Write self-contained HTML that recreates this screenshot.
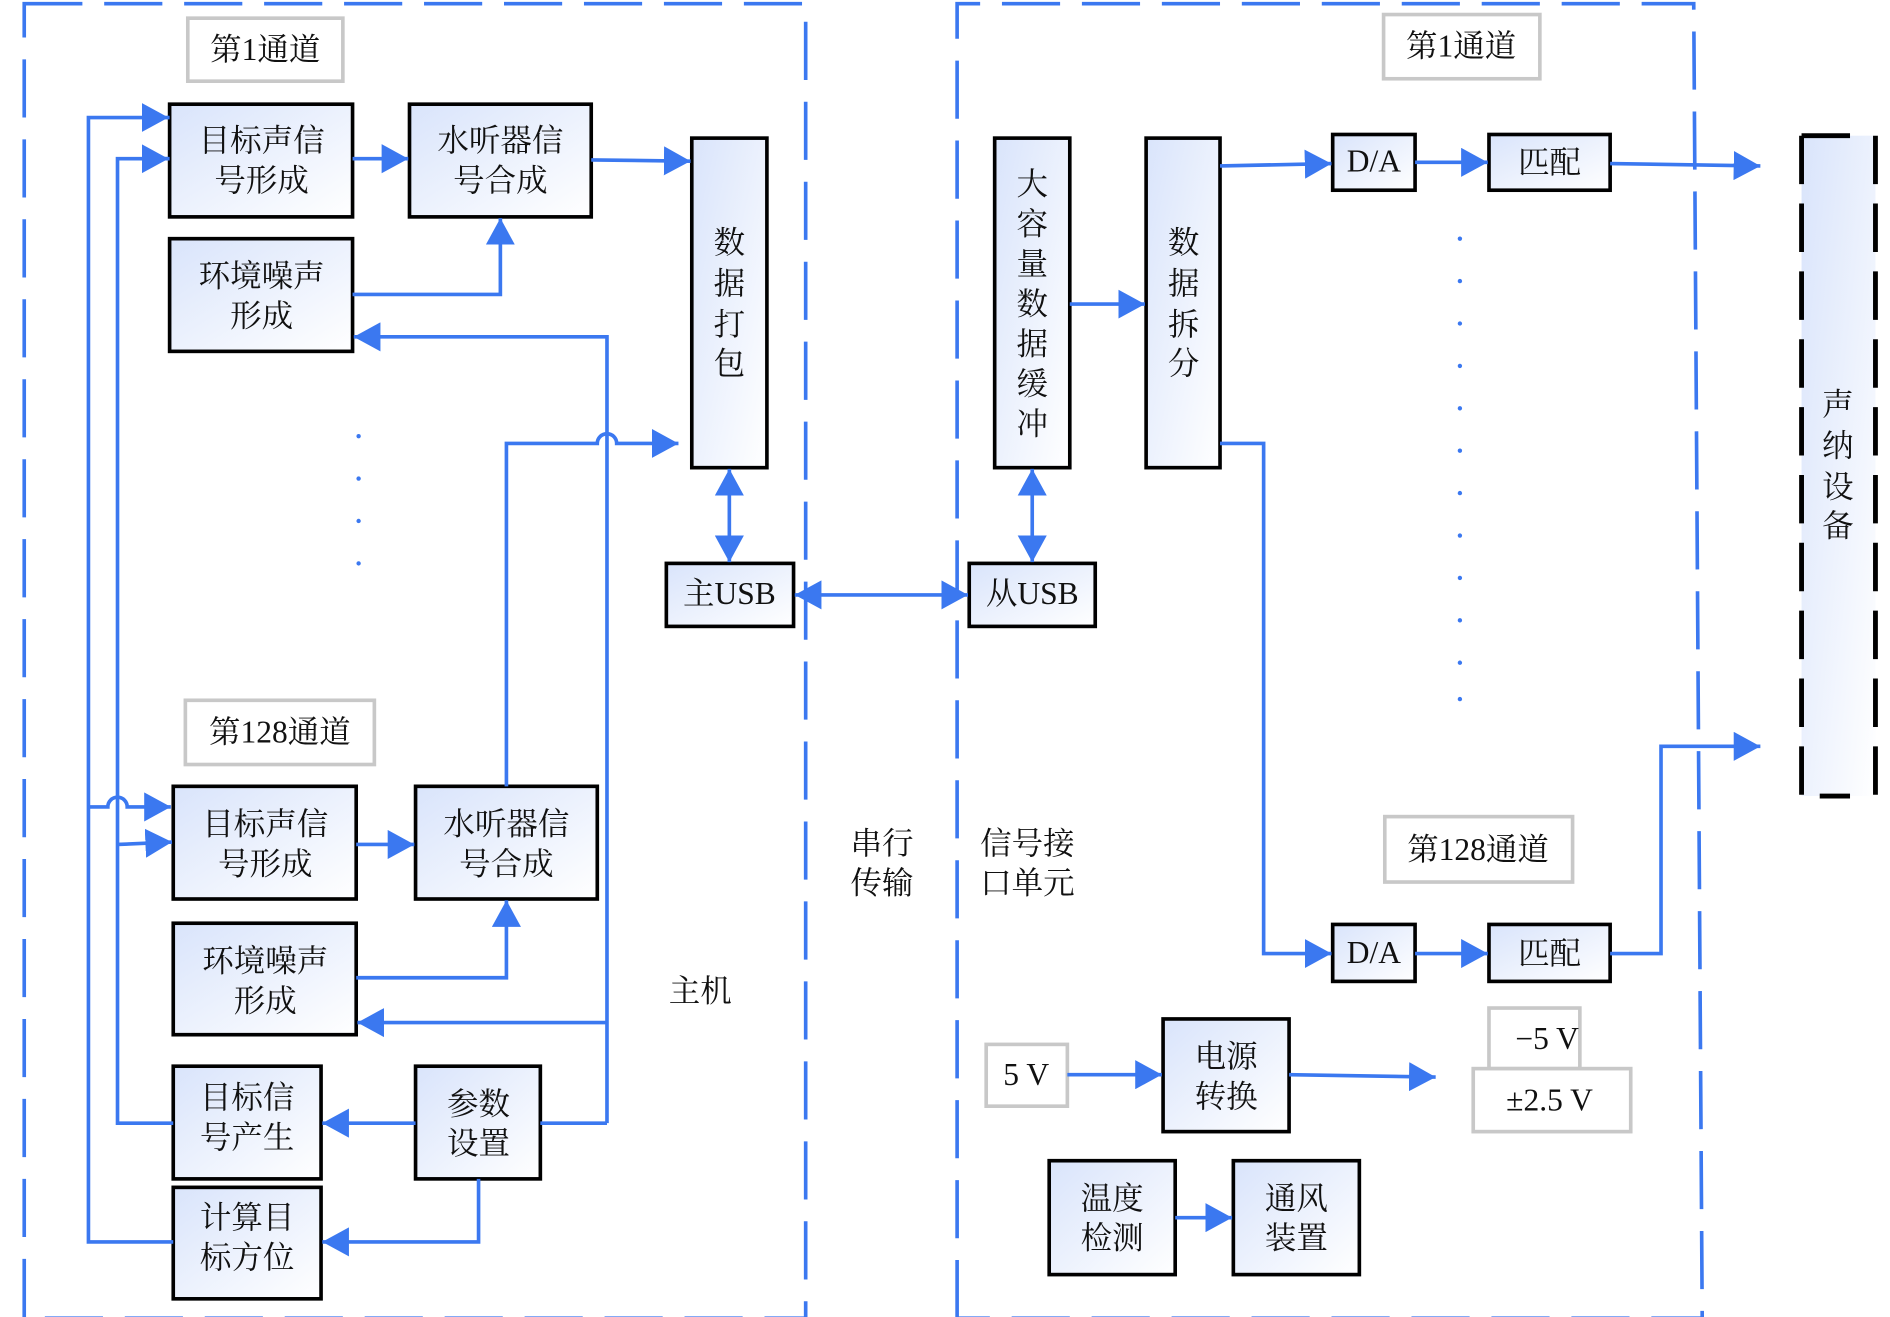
<!DOCTYPE html>
<html><head><meta charset="utf-8"><style>
html,body{margin:0;padding:0;background:#fff;}
svg{display:block;}
text{font-family:"Liberation Serif","Noto Serif CJK SC",serif;font-size:26px;fill:#111;text-anchor:middle;dominant-baseline:central;}
</style></head><body>
<svg width="1890" height="1317" viewBox="0 0 1560 1087" preserveAspectRatio="none" xmlns="http://www.w3.org/2000/svg">
<defs>
<linearGradient id="g" x1="0" y1="0" x2="1" y2="1"><stop offset="0" stop-color="#d9e4fb"/><stop offset="1" stop-color="#ffffff"/></linearGradient>
<marker id="a" viewBox="0 0 22 24" refX="22" refY="12" markerWidth="22" markerHeight="24" markerUnits="userSpaceOnUse" orient="auto-start-reverse"><path d="M0,0 L22,12 L0,24 z" fill="#3b78f0"/></marker>
</defs>
<g fill="none" stroke="#3b78f0" stroke-width="3" stroke-dasharray="48 18">
<rect x="20" y="3" width="645" height="1085"/>
<path d="M790,1088 V3 H1398 L1405,1088 H790"/>
</g>
<!-- sonar -->
<rect x="1487" y="112" width="61" height="545" fill="url(#g)"/>
<path d="M1487,112 V657 H1527 M1548,112 V657 M1487,112 H1527" fill="none" stroke="#000" stroke-width="4" stroke-dasharray="40 16"/>
<!-- gray labels -->
<g fill="#fff" stroke="#c8c8c8" stroke-width="3">
<rect x="155" y="15" width="128" height="52"/><rect x="1142" y="12" width="129" height="53"/>
<rect x="153" y="578" width="156" height="53"/><rect x="1143" y="674" width="155" height="54"/>
<rect x="814" y="862" width="67" height="51"/><rect x="1229" y="832" width="75" height="50"/><rect x="1216" y="882" width="130" height="52"/>
</g>
<!-- blocks -->
<g fill="url(#g)" stroke="#000" stroke-width="3">
<rect x="140" y="86" width="151" height="93"/><rect x="338" y="86" width="150" height="93"/><rect x="140" y="197" width="151" height="93"/>
<rect x="571" y="114" width="62" height="272"/><rect x="550" y="465" width="105" height="52"/>
<rect x="143" y="649" width="151" height="93"/><rect x="343" y="649" width="150" height="93"/><rect x="143" y="762" width="151" height="92"/>
<rect x="143" y="880" width="122" height="93"/><rect x="343" y="880" width="103" height="93"/><rect x="143" y="980" width="122" height="92"/>
<rect x="800" y="465" width="104" height="52"/><rect x="821" y="114" width="62" height="272"/><rect x="946" y="114" width="61" height="272"/>
<rect x="1100" y="111" width="68" height="46"/><rect x="1229" y="111" width="100" height="46"/>
<rect x="1100" y="763" width="68" height="47"/><rect x="1229" y="763" width="100" height="47"/>
<rect x="960" y="841" width="104" height="93"/><rect x="866" y="958" width="104" height="94"/><rect x="1018" y="958" width="104" height="94"/>
</g>
<!-- connectors -->
<g fill="none" stroke="#3b78f0" stroke-width="3">
<path d="M140,97 H73 V1025 H143"/>
<path d="M138,97 H139" marker-end="url(#a)"/>
<path d="M73,666 H89 A8,8 0 0 1 105,666 H141" marker-end="url(#a)"/>
<path d="M140,131 H97 V927 H143"/>
<path d="M118,131 H139" marker-end="url(#a)"/>
<path d="M97,697 L142,695" marker-end="url(#a)"/>
<path d="M291,131 H337" marker-end="url(#a)"/>
<path d="M488,132 L570,133" marker-end="url(#a)"/>
<path d="M291,243 H413 V180" marker-end="url(#a)"/>
<path d="M501,927 V278 H292" marker-end="url(#a)"/>
<path d="M501,844 H295" marker-end="url(#a)"/>
<path d="M446,927 H501"/>
<path d="M418,649 V366 H493 A8,8 0 0 1 509,366 H560" marker-end="url(#a)"/>
<path d="M294,697 H342" marker-end="url(#a)"/>
<path d="M294,807 H418 V743" marker-end="url(#a)"/>
<path d="M343,927 H266" marker-end="url(#a)"/>
<path d="M395,973 V1025 H266" marker-end="url(#a)"/>
<path d="M602,387 V464" marker-start="url(#a)" marker-end="url(#a)"/>
<path d="M656,491 H799" marker-start="url(#a)" marker-end="url(#a)"/>
<path d="M852,387 V464" marker-start="url(#a)" marker-end="url(#a)"/>
<path d="M883,251 H945" marker-end="url(#a)"/>
<path d="M1007,137 L1099,135" marker-end="url(#a)"/>
<path d="M1168,134 H1228" marker-end="url(#a)"/>
<path d="M1329,135 L1453,137" marker-end="url(#a)"/>
<path d="M1007,366 H1043 V787 H1099" marker-end="url(#a)"/>
<path d="M1168,787 H1228" marker-end="url(#a)"/>
<path d="M1329,787 H1371 V616 H1453" marker-end="url(#a)"/>
<path d="M881,887 H959" marker-end="url(#a)"/>
<path d="M1064,887 L1185,889" marker-end="url(#a)"/>
<path d="M970,1005 H1017" marker-end="url(#a)"/>
</g>
<g fill="#3b78f0">
<circle cx="296" cy="360" r="1.8"/><circle cx="296" cy="395" r="1.8"/><circle cx="296" cy="430" r="1.8"/><circle cx="296" cy="465" r="1.8"/>
<circle cx="1205" cy="197" r="1.8"/><circle cx="1205" cy="232" r="1.8"/><circle cx="1205" cy="267" r="1.8"/><circle cx="1205" cy="302" r="1.8"/><circle cx="1205" cy="337" r="1.8"/><circle cx="1205" cy="372" r="1.8"/><circle cx="1205" cy="407" r="1.8"/><circle cx="1205" cy="442" r="1.8"/><circle cx="1205" cy="477" r="1.8"/><circle cx="1205" cy="512" r="1.8"/><circle cx="1205" cy="547" r="1.8"/><circle cx="1205" cy="577" r="1.8"/>
</g>
<!-- text -->
<text x="219" y="41">第1通道</text><text x="1206" y="38">第1通道</text>
<text x="231" y="604">第128通道</text><text x="1220" y="701">第128通道</text>
<text x="216" y="116">目标声信</text><text x="216" y="149">号形成</text>
<text x="413" y="116">水听器信</text><text x="413" y="149">号合成</text>
<text x="216" y="228">环境噪声</text><text x="216" y="261">形成</text>
<text x="602" y="200">数</text><text x="602" y="234">据</text><text x="602" y="268">打</text><text x="602" y="300">包</text>
<text x="602" y="490">主USB</text>
<text x="219" y="680">目标声信</text><text x="219" y="713">号形成</text>
<text x="418" y="680">水听器信</text><text x="418" y="713">号合成</text>
<text x="219" y="793">环境噪声</text><text x="219" y="826">形成</text>
<text x="204" y="906">目标信</text><text x="204" y="939">号产生</text>
<text x="395" y="911">参数</text><text x="395" y="944">设置</text>
<text x="204" y="1005">计算目</text><text x="204" y="1038">标方位</text>
<text x="578" y="818">主机</text>
<text x="728" y="696">串行</text><text x="728" y="729">传输</text>
<text x="848" y="696">信号接</text><text x="848" y="729">口单元</text>
<text x="852" y="490">从USB</text>
<text x="852" y="152">大</text><text x="852" y="185">容</text><text x="852" y="218">量</text><text x="852" y="251">数</text><text x="852" y="284">据</text><text x="852" y="317">缓</text><text x="852" y="350">冲</text>
<text x="977" y="200">数</text><text x="977" y="234">据</text><text x="977" y="268">拆</text><text x="977" y="300">分</text>
<text x="1134" y="133">D/A</text><text x="1279" y="134">匹配</text>
<text x="1134" y="786">D/A</text><text x="1279" y="787">匹配</text>
<text x="1517" y="334">声</text><text x="1517" y="368">纳</text><text x="1517" y="402">设</text><text x="1517" y="434">备</text>
<text x="847" y="887">5 V</text>
<text x="1012" y="872">电源</text><text x="1012" y="905">转换</text>
<text x="1277" y="857">−5 V</text><text x="1279" y="908">±2.5 V</text>
<text x="918" y="989">温度</text><text x="918" y="1022">检测</text>
<text x="1070" y="989">通风</text><text x="1070" y="1022">装置</text>
</svg>
</body></html>
